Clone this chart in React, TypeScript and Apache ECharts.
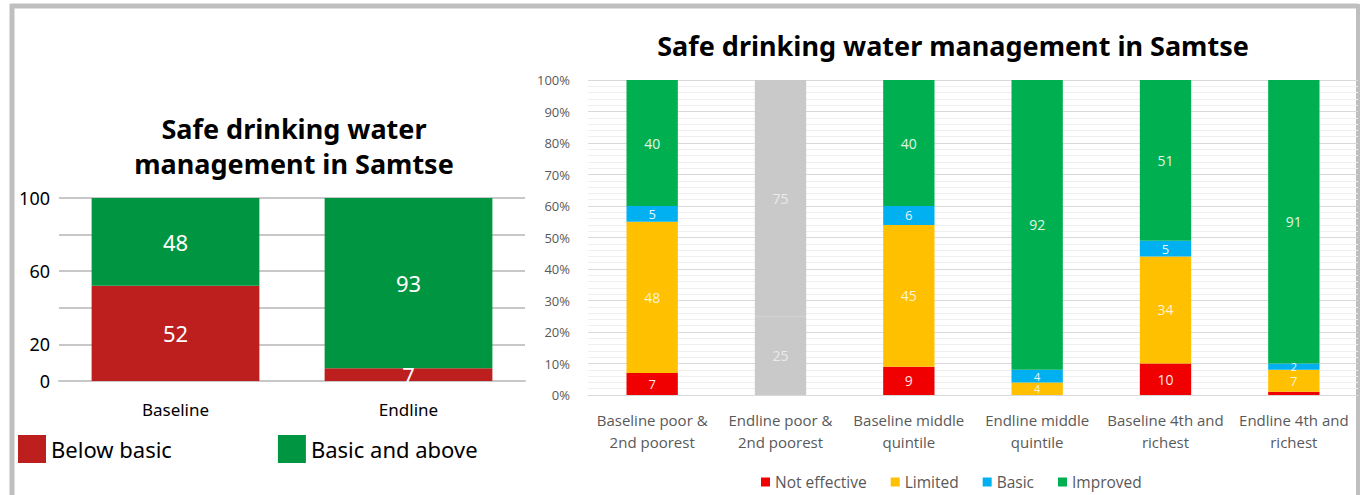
import React, { useEffect, useRef } from "react";
import * as echarts from "echarts";

// Left chart data
const leftCategories = ["Baseline", "Endline"];
const belowBasic = [52, 7];
const basicAndAbove = [48, 93];

// Right chart data
const rightCategories = [
  "Baseline poor &\n2nd poorest",
  "Endline poor &\n2nd poorest",
  "Baseline middle\nquintile",
  "Endline middle\nquintile",
  "Baseline 4th and\nrichest",
  "Endline 4th and\nrichest",
];
const notEffective = [7, 0, 9, 0, 10, 1];
const limited = [48, 0, 45, 4, 34, 7];
const basic = [5, 0, 6, 4, 5, 2];
const improved = [40, 0, 40, 92, 51, 91];
const greyLower = [0, 25, 0, 0, 0, 0];
const greyUpper = [0, 75, 0, 0, 0, 0];

const leftFont = "'Noto Sans', 'Open Sans', sans-serif";
const rightFont = "'Open Sans', 'Noto Sans', sans-serif";

export default function App() {
  const ref = useRef<HTMLDivElement>(null);
  useEffect(() => {
    if (!ref.current) return;
    const chart = echarts.init(ref.current, undefined, { renderer: "svg" });
    const rightSeries = (name: string, data: number[], color: string, labelColor: string) => ({
      type: "bar",
      name,
      xAxisIndex: 1,
      yAxisIndex: 1,
      stack: "r",
      barCategoryGap: "60%",
      itemStyle: { color },
      data: data.map((v) => ({
        value: v,
        label: {
          show: v >= 2,
          position: "inside",
          color: labelColor,
          fontSize: v < 5 ? 11 : v < 8 ? 13 : 14,
          lineHeight: v < 5 ? 11 : v < 8 ? 12 : 16,
          fontFamily: rightFont,
        },
      })),
    });
    chart.setOption({
      animation: false,
      backgroundColor: "#ffffff",
      title: [
        {
          text: "Safe drinking water\nmanagement in Samtse",
          left: 289,
          top: 106,
          textAlign: "center",
          textStyle: { fontFamily: leftFont, fontWeight: "bold", fontSize: 27, lineHeight: 35, color: "#000" },
        },
        {
          text: "Safe drinking water management in Samtse",
          left: 948,
          top: 27,
          textAlign: "center",
          textStyle: { fontFamily: leftFont, fontWeight: "bold", fontSize: 27, color: "#000" },
        },
      ],
      legend: [
        {
          data: ["Below basic", "Basic and above"],
          left: 13,
          top: 430,
          itemWidth: 28,
          itemHeight: 28,
          itemGap: 106,
          icon: "rect",
          textStyle: { fontFamily: leftFont, fontSize: 22, color: "#000" },
        },
        {
          data: ["Not effective", "Limited", "Basic", "Improved"],
          left: 756,
          top: 469,
          itemWidth: 9,
          itemHeight: 9,
          itemGap: 24,
          icon: "rect",
          textStyle: { fontFamily: rightFont, fontSize: 15.5, color: "#595959" },
        },
      ],
      grid: [
        { left: 59, right: 835, top: 198, bottom: 114 },
        { left: 588, right: 2, top: 80, bottom: 100 },
      ],
      xAxis: [
        {
          type: "category",
          gridIndex: 0,
          data: leftCategories,
          axisLine: { lineStyle: { color: "#c8c8c8", width: 2 } },
          axisTick: { show: false },
          axisLabel: { fontFamily: leftFont, fontSize: 17, color: "#000", margin: 20 },
        },
        {
          type: "category",
          gridIndex: 1,
          data: rightCategories,
          axisLine: { lineStyle: { color: "#d9d9d9", width: 1 } },
          axisTick: { show: false },
          axisLabel: { fontFamily: rightFont, fontSize: 15, lineHeight: 22, color: "#595959", margin: 14, interval: 0 },
        },
      ],
      yAxis: [
        {
          type: "value",
          gridIndex: 0,
          min: 0,
          max: 100,
          interval: 20,
          axisLine: { show: false },
          axisTick: { show: false },
          splitLine: { lineStyle: { color: "#c8c8c8", width: 2 } },
          axisLabel: {
            fontFamily: leftFont,
            fontSize: 18,
            color: "#000",
            margin: 9,
            formatter: (v: number) => (v === 40 || v === 80 ? "" : String(v)),
          },
        },
        {
          type: "value",
          gridIndex: 1,
          min: 0,
          max: 100,
          interval: 10,
          axisLine: { show: false },
          axisTick: { show: false },
          splitLine: { lineStyle: { color: "#d9d9d9", width: 1 } },
          minorTick: { show: false, splitNumber: 5 },
          minorSplitLine: { show: true, lineStyle: { color: "#efefef", width: 1 } },
          axisLabel: { fontFamily: rightFont, fontSize: 13, color: "#595959", margin: 18, formatter: "{value}%" },
        },
      ],
      series: [
        {
          type: "bar",
          name: "Below basic",
          xAxisIndex: 0,
          yAxisIndex: 0,
          stack: "l",
          data: belowBasic,
          barCategoryGap: "28%",
          itemStyle: { color: "#bd1e1e" },
          label: { show: true, position: "inside", color: "#fff", fontSize: 22, fontFamily: leftFont },
        },
        {
          type: "bar",
          name: "Basic and above",
          xAxisIndex: 0,
          yAxisIndex: 0,
          stack: "l",
          data: basicAndAbove,
          barCategoryGap: "28%",
          itemStyle: { color: "#009641" },
          label: { show: true, position: "inside", color: "#fff", fontSize: 22, fontFamily: leftFont },
        },
        rightSeries("Not effective", notEffective, "#f00000", "#ffe6e6"),
        rightSeries("Limited", limited, "#ffc000", "#fff4d6"),
        rightSeries("Basic", basic, "#00b0f0", "#e6f7ff"),
        rightSeries("Improved", improved, "#00b050", "#e3f5ea"),
        rightSeries("Endline grey lower", greyLower, "#c9c9c9", "#ebebeb"),
        rightSeries("Endline grey upper", greyUpper, "#c9c9c9", "#ebebeb"),
      ],
      graphic: [
        { type: "line", shape: { x1: 10, y1: 6, x2: 1358, y2: 6 }, style: { stroke: "#bfbfbf", lineWidth: 5 } },
        { type: "line", shape: { x1: 12, y1: 4, x2: 12, y2: 495 }, style: { stroke: "#bfbfbf", lineWidth: 5 } },
        { type: "line", shape: { x1: 1358, y1: 4, x2: 1358, y2: 495 }, style: { stroke: "#bfbfbf", lineWidth: 4 } },
      ],
    });
    return () => chart.dispose();
  }, []);
  return (
    <div
      ref={ref}
      style={{ position: "fixed", left: 0, top: 0, width: 1360, height: 495, background: "#fff" }}
    />
  );
}
